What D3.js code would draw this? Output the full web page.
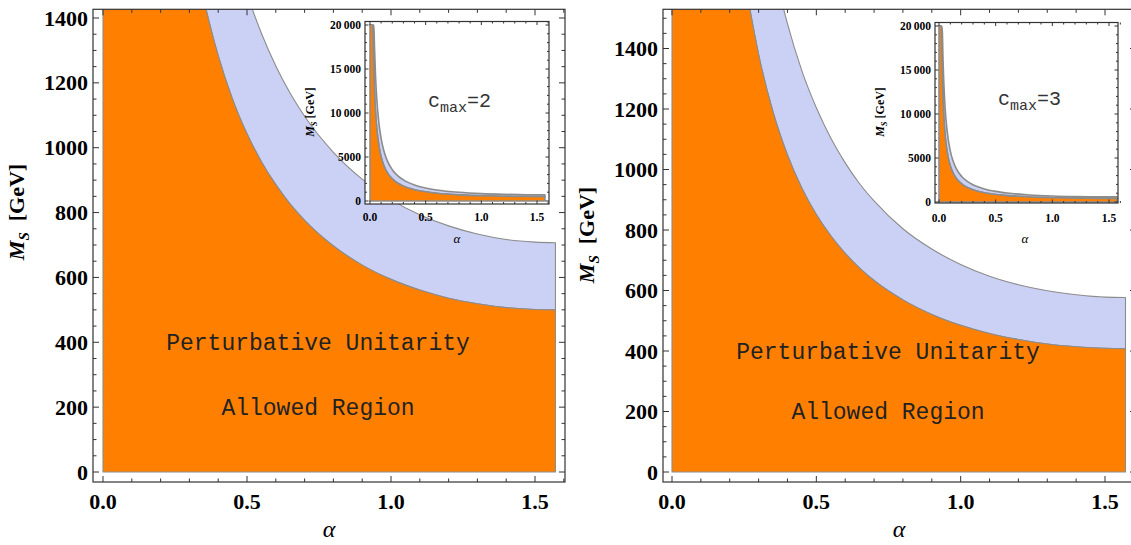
<!DOCTYPE html>
<html><head><meta charset="utf-8">
<script src="https://cdn.jsdelivr.net/npm/d3@7"></script>
<style>
body{margin:0;background:#fff}svg{display:block}
.serif{font-family:"Liberation Serif","Tinos","Times New Roman",Times,"DejaVu Serif",serif}
.mono{font-family:"Liberation Mono","Cousine","Courier New",Courier,monospace}
</style></head>
<body>
<svg id="chart" width="1131" height="545"></svg>
<script>
// ---------- data ----------
const alphaMain   = [0.20, 0.25, 0.30, 0.35, 0.40, 0.45, 0.50, 0.55, 0.60, 0.65, 0.70, 0.80, 0.90, 1.00, 1.10, 1.20, 1.30, 1.40, 1.50, 1.571];
const leftOrange  = [2516, 2021, 1692, 1458, 1284, 1149, 1043, 957, 886, 826, 776, 697, 638, 594, 561, 536, 519, 507, 501, 500];
const leftBlue    = [3558, 2858, 2393, 2062, 1816, 1625, 1475, 1353, 1252, 1168, 1097, 986, 903, 840, 793, 759, 734, 717, 709, 707];
const rightOrange = [2053, 1649, 1381, 1190, 1048, 938, 851, 781, 723, 674, 633, 569, 521, 485, 458, 438, 423, 414, 409, 408];
const rightBlue   = [2904, 2332, 1953, 1683, 1482, 1326, 1204, 1104, 1022, 953, 896, 804, 737, 686, 647, 619, 599, 586, 578, 577];

const alphaInset       = [0.02, 0.025, 0.03, 0.035, 0.04, 0.05, 0.06, 0.08, 0.10, 0.125, 0.15, 0.20, 0.25, 0.30, 0.40, 0.50, 0.60, 0.80, 1.00, 1.20, 1.40, 1.571];
const leftInsetOrange  = [25002, 20002, 16669, 14288, 12503, 10004, 8338, 6257, 5008, 4013, 3345, 2516, 2021, 1692, 1284, 1043, 886, 697, 594, 536, 507, 500];
const leftInsetBlue    = [35350, 28281, 23569, 20203, 17680, 14146, 11790, 8847, 7081, 5674, 4730, 3558, 2858, 2393, 1816, 1475, 1252, 986, 840, 759, 717, 707];
const rightInsetOrange = [20401, 16322, 13602, 11659, 10202, 8163, 6804, 5106, 4087, 3274, 2729, 2053, 1649, 1381, 1048, 851, 723, 569, 485, 438, 414, 408];
const rightInsetBlue   = [28851, 23082, 19236, 16488, 14428, 11544, 9622, 7221, 5780, 4631, 3860, 2904, 2332, 1953, 1482, 1204, 1022, 804, 686, 619, 586, 577];
const insetCap = 20000;

const xTicks = [0, 0.5, 1.0, 1.5];
const xTickLabels = ["0.0", "0.5", "1.0", "1.5"];
const yTicks = [0, 200, 400, 600, 800, 1000, 1200, 1400];
const insetYTicks = [0, 5000, 10000, 15000, 20000];
const insetYTickLabels = ["0", "5000", "10\u2009000", "15\u2009000", "20\u2009000"];
const cmaxValues = ["2", "3"];
const regionLines = ["Perturbative Unitarity", "Allowed Region"];

// ---------- styles ----------
const ORANGE = "#ff8000", BLUE = "#cbd0f5", EDGE = "#8c8c8c", FRAME = "#333";

const svg = d3.select("#chart");

const panels = [
  { id: "L", orange: leftOrange, blue: leftBlue,
    xr: [103, 535], yr: [472, 18], frame: [93, 565, 9.3, 482],
    ylab: [24, 212], alab: [329, 537], text: [318, 350, 415], cmax: cmaxValues[0],
    inset: { orange: leftInsetOrange, blue: leftInsetBlue, xr: [370, 537], yr: [201, 25],
             frame: [365, 549, 21.5, 204], ylab: [314, 112], alab: [457, 243], cm: [428, 107] } },
  { id: "R", orange: rightOrange, blue: rightBlue,
    xr: [672, 1105], yr: [472, 48.5], frame: [663, 1136, 9.3, 482],
    ylab: [594, 235], alab: [899, 537], text: [888, 359, 419], cmax: cmaxValues[1],
    inset: { orange: rightInsetOrange, blue: rightInsetBlue, xr: [939, 1109], yr: [202, 26],
             frame: [935, 1118, 22.5, 203], ylab: [884, 112], alab: [1025, 243], cm: [998, 105] } }
];

function drawTicks(g, x, y, fr, xMaj, xMin, yMaj, yMin, L, l) {
  const [x0, x1, y0, y1] = fr;
  const seg = (xa, ya, xb, yb) => g.append("line").attr("x1", xa).attr("y1", ya).attr("x2", xb).attr("y2", yb)
      .attr("stroke", FRAME).attr("stroke-width", 1);
  xMaj.forEach(v => { const p = x(v); seg(p, y1, p, y1 - L); seg(p, y0, p, y0 + L); });
  xMin.forEach(v => { const p = x(v); seg(p, y1, p, y1 - l); seg(p, y0, p, y0 + l); });
  yMaj.forEach(v => { const p = y(v); if (p < y0 || p > y1) return; seg(x0, p, x0 + L, p); seg(x1, p, x1 - L, p); });
  yMin.forEach(v => { const p = y(v); if (p < y0 || p > y1) return; seg(x0, p, x0 + l, p); seg(x1, p, x1 - l, p); });
  g.append("rect").attr("x", x0).attr("y", y0).attr("width", x1 - x0).attr("height", y1 - y0)
    .attr("fill", "none").attr("stroke", FRAME).attr("stroke-width", 1.2);
}

function regions(g, x, y, alphas, orange, blue, cap, clipId, sw) {
  const rows = alphas.map((a, i) => ({ a, o: Math.min(orange[i], cap), b: Math.min(blue[i], cap) }));
  rows.unshift({ a: 0, o: rows[0].o, b: rows[0].b });
  const gg = g.append("g").attr("clip-path", `url(#${clipId})`);
  const areaO = d3.area().x(d => x(d.a)).y0(y(0)).y1(d => y(d.o)).curve(d3.curveMonotoneX);
  const areaB = d3.area().x(d => x(d.a)).y0(d => y(d.o)).y1(d => y(d.b)).curve(d3.curveMonotoneX);
  gg.append("path").datum(rows).attr("d", areaB).attr("fill", BLUE).attr("stroke", EDGE).attr("stroke-width", sw).attr("stroke-linejoin", "round");
  gg.append("path").datum(rows).attr("d", areaO).attr("fill", ORANGE).attr("stroke", EDGE).attr("stroke-width", sw).attr("stroke-linejoin", "round");
}

const defs = svg.append("defs");

panels.forEach(P => {
  const g = svg.append("g");
  const x = d3.scaleLinear().domain([0, 1.5]).range(P.xr);
  const y = d3.scaleLinear().domain([0, 1400]).range(P.yr);
  const [fx0, fx1, fy0, fy1] = P.frame;
  defs.append("clipPath").attr("id", "clip" + P.id).append("rect")
    .attr("x", fx0).attr("y", fy0).attr("width", fx1 - fx0).attr("height", fy1 - fy0);

  regions(g, x, y, alphaMain, P.orange, P.blue, Infinity, "clip" + P.id, 1.1);

  const xMin = d3.range(0, 1.61, 0.1).filter(v => Math.abs(v * 2 - Math.round(v * 2)) > 1e-6);
  const yMax = y.invert(fy0);
  const yMin = d3.range(0, yMax, 50).filter(v => v % 200 !== 0);
  drawTicks(g, x, y, P.frame, xTicks, xMin, yTicks, yMin, 6, 3.5);

  // tick labels
  g.selectAll(".xl").data(xTicks).join("text").attr("class", "serif").attr("x", d => x(d)).attr("y", 509)
    .attr("text-anchor", "middle").attr("font-weight", "bold").attr("font-size", 22)
    .text((d, i) => xTickLabels[i]);
  g.selectAll(".yl").data(yTicks).join("text").attr("class", "serif").attr("x", fx0 - 5).attr("y", d => y(d) + 7.5)
    .attr("text-anchor", "end").attr("font-weight", "bold").attr("font-size", 22)
    .text(d => d);

  // axis labels
  const yl = g.append("text").attr("class", "serif").attr("transform", `translate(${P.ylab[0]},${P.ylab[1]}) rotate(-90)`)
    .attr("text-anchor", "middle").attr("font-weight", "bold").attr("font-size", 22);
  yl.append("tspan").attr("font-style", "italic").text("M");
  yl.append("tspan").attr("font-style", "italic").attr("font-size", 15).attr("dy", 5).text("S");
  yl.append("tspan").attr("dy", -5).text("\u00a0\u00a0[GeV]");
  g.append("text").attr("class", "serif").attr("x", P.alab[0]).attr("y", P.alab[1]).attr("text-anchor", "middle")
    .attr("font-style", "italic").attr("font-size", 24).text("\u03b1");

  // region text
  regionLines.forEach((t, i) => {
    g.append("text").attr("class", "mono").attr("x", P.text[0]).attr("y", P.text[1 + i]).attr("text-anchor", "middle")
      .attr("font-size", 23).attr("fill", "#222").text(t);
  });

  // ---------- inset ----------
  const I = P.inset;
  const ix = d3.scaleLinear().domain([0, 1.5]).range(I.xr);
  const iy = d3.scaleLinear().domain([0, 20000]).range(I.yr);
  const [ix0, ix1, iy0, iy1] = I.frame;
  const ig = svg.append("g");
  ig.append("rect").attr("x", ix0).attr("y", iy0).attr("width", ix1 - ix0).attr("height", iy1 - iy0).attr("fill", "#fff");
  defs.append("clipPath").attr("id", "iclip" + P.id).append("rect")
    .attr("x", ix0).attr("y", iy0).attr("width", ix1 - ix0).attr("height", iy1 - iy0);
  regions(ig, ix, iy, alphaInset, I.orange, I.blue, insetCap, "iclip" + P.id, 1.6);
  const iyMin = d3.range(0, 20001, 1000).filter(v => v % 5000 !== 0);
  drawTicks(ig, ix, iy, I.frame, xTicks, xMin, insetYTicks, iyMin, 3.5, 2);
  ig.selectAll(".ixl").data(xTicks).join("text").attr("class", "serif").attr("x", d => ix(d)).attr("y", I.yr[0] + 20)
    .attr("text-anchor", "middle").attr("font-weight", "bold").attr("font-size", 11.5)
    .text((d, i) => xTickLabels[i]);
  ig.selectAll(".iyl").data(insetYTicks).join("text").attr("class", "serif").attr("x", ix0 - 4).attr("y", d => iy(d) + 4)
    .attr("text-anchor", "end").attr("font-weight", "bold").attr("font-size", 11.5)
    .text((d, i) => insetYTickLabels[i]);
  const iyl = ig.append("text").attr("class", "serif").attr("transform", `translate(${I.ylab[0]},${I.ylab[1]}) rotate(-90)`)
    .attr("text-anchor", "middle").attr("font-weight", "bold").attr("font-size", 12);
  iyl.append("tspan").attr("font-style", "italic").text("M");
  iyl.append("tspan").attr("font-style", "italic").attr("font-size", 8.5).attr("dy", 3).text("S");
  iyl.append("tspan").attr("dy", -3).text("\u00a0[GeV]");
  ig.append("text").attr("class", "serif").attr("x", I.alab[0]).attr("y", I.alab[1]).attr("text-anchor", "middle")
    .attr("font-style", "italic").attr("font-size", 13).text("\u03b1");
  const cm = ig.append("text").attr("class", "mono").attr("x", I.cm[0]).attr("y", I.cm[1])
    .attr("font-size", 20).attr("fill", "#333");
  cm.append("tspan").text("c");
  cm.append("tspan").attr("font-size", 15).attr("dy", 5).text("max");
  cm.append("tspan").attr("dy", -5).text("=" + P.cmax);
});
</script>
</body></html>
